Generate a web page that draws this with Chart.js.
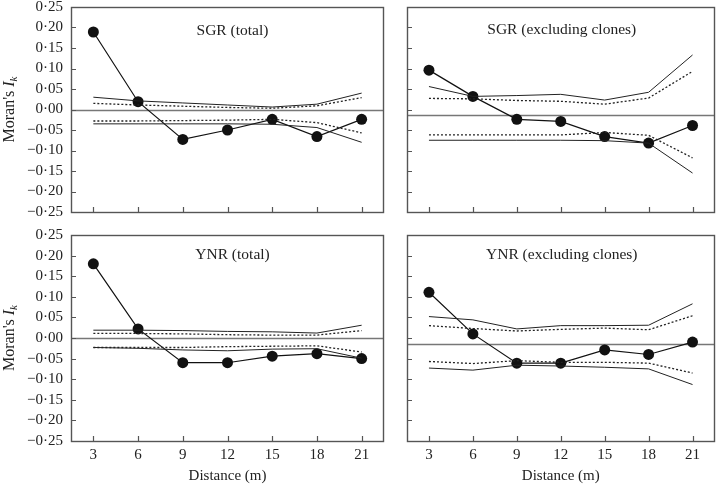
<!DOCTYPE html>
<html><head><meta charset="utf-8">
<script src="https://cdn.jsdelivr.net/npm/chart.js@4/dist/chart.umd.min.js"></script>
<style>
html,body{margin:0;padding:0;background:#fff;width:720px;height:484px;overflow:hidden}
canvas{position:absolute;left:0;top:0}
</style>
</head><body>
<canvas id="c1" width="720" height="484"></canvas>
<canvas id="c2" width="720" height="484"></canvas>
<canvas id="c3" width="720" height="484"></canvas>
<canvas id="c4" width="720" height="484"></canvas>
<script>
// ---- data ----
const distances = [3, 6, 9, 12, 15, 18, 21];
const yTickStep = 0.05;
const yMin = -0.25, yMax = 0.25;
const xAxisTitle = 'Distance (m)';

// SGR (total)
const sgrTotalTitle = 'SGR (total)';
const sgrTotalObs     = [0.189, 0.019, -0.073, -0.050, -0.024, -0.066, -0.024];
const sgrTotalUpSolid = [0.030, 0.021, 0.016, 0.011, 0.006, 0.013, 0.040];
const sgrTotalUpDot   = [0.015, 0.011, 0.008, 0.005, 0.003, 0.009, 0.029];
const sgrTotalLoDot   = [-0.028, -0.028, -0.027, -0.026, -0.024, -0.032, -0.057];
const sgrTotalLoSolid = [-0.035, -0.035, -0.035, -0.035, -0.036, -0.044, -0.080];
const sgrTotalRef = 0;

// SGR (excluding clones)
const sgrExclTitle = 'SGR (excluding clones)';
const sgrExclObs     = [0.096, 0.032, -0.024, -0.029, -0.066, -0.082, -0.039];
const sgrExclUpSolid = [0.056, 0.032, 0.034, 0.037, 0.023, 0.042, 0.133];
const sgrExclUpDot   = [0.027, 0.026, 0.022, 0.020, 0.013, 0.028, 0.093];
const sgrExclLoDot   = [-0.062, -0.062, -0.062, -0.062, -0.056, -0.063, -0.118];
const sgrExclLoSolid = [-0.075, -0.075, -0.075, -0.075, -0.076, -0.082, -0.155];
const sgrExclRef = -0.013;

// YNR (total)
const ynrTotalTitle = 'YNR (total)';
const ynrTotalObs     = [0.180, 0.022, -0.060, -0.060, -0.044, -0.038, -0.050];
const ynrTotalUpSolid = [0.019, 0.019, 0.018, 0.016, 0.015, 0.012, 0.031];
const ynrTotalUpDot   = [0.011, 0.011, 0.010, 0.008, 0.007, 0.007, 0.018];
const ynrTotalLoDot   = [-0.023, -0.023, -0.023, -0.021, -0.020, -0.019, -0.034];
const ynrTotalLoSolid = [-0.023, -0.025, -0.029, -0.031, -0.027, -0.026, -0.049];
const ynrTotalRef = 0;

// YNR (excluding clones)
const ynrExclTitle = 'YNR (excluding clones)';
const ynrExclObs     = [0.111, 0.010, -0.061, -0.061, -0.029, -0.040, -0.010];
const ynrExclUpSolid = [0.052, 0.044, 0.022, 0.030, 0.030, 0.031, 0.083];
const ynrExclUpDot   = [0.030, 0.023, 0.017, 0.021, 0.024, 0.020, 0.054];
const ynrExclLoDot   = [-0.057, -0.062, -0.055, -0.059, -0.059, -0.061, -0.085];
const ynrExclLoSolid = [-0.073, -0.078, -0.066, -0.068, -0.071, -0.075, -0.113];
const ynrExclRef = -0.015;

// ---- rendering ----
const SERIF = '"Liberation Serif", "DejaVu Serif", serif';
const pts = arr => arr.map((v, i) => ({x: distances[i], y: v}));
const fmt = v => {
  const s = Math.abs(v) < 1e-9 ? '0.00' : v.toFixed(2);
  return s.replace('-', '\u2212').replace('.', '\u00B7');
};

const panelPlugin = {
  id: 'panel',
  beforeDatasetsDraw(chart, args, o) {
    const {ctx, chartArea: a, scales: {x, y}} = chart;
    ctx.save();
    // reference line
    const yr = Math.round(y.getPixelForValue(o.ref)) + 0.5;
    ctx.strokeStyle = '#777'; ctx.lineWidth = 1.3;
    ctx.beginPath(); ctx.moveTo(a.left, yr); ctx.lineTo(a.right, yr); ctx.stroke();
    // inward ticks
    ctx.strokeStyle = '#555'; ctx.lineWidth = 1.2;
    ctx.beginPath();
    x.ticks.forEach(t => {
      const px = Math.round(x.getPixelForValue(t.value)) + 0.5;
      ctx.moveTo(px, a.bottom); ctx.lineTo(px, a.bottom - 5);
    });
    y.ticks.forEach(t => {
      const py = Math.round(y.getPixelForValue(t.value)) + 0.5;
      ctx.moveTo(a.left, py); ctx.lineTo(a.left + 5, py);
    });
    ctx.stroke();
    // frame
    ctx.strokeStyle = '#555'; ctx.lineWidth = 1.4;
    ctx.strokeRect(Math.round(a.left) + 0.5, Math.round(a.top) + 0.5,
                   Math.round(a.right - a.left) - 1, Math.round(a.bottom - a.top));
    // panel title
    ctx.fillStyle = '#222';
    ctx.font = '15.5px ' + SERIF;
    ctx.textAlign = 'center'; ctx.textBaseline = 'middle';
    ctx.fillText(o.title, (a.left + a.right) / 2 + o.titleDx, a.top + o.titleDy);
    // y-axis title
    if (o.yTitle) {
      ctx.translate(10, (a.top + a.bottom) / 2);
      ctx.rotate(-Math.PI / 2);
      ctx.textAlign = 'left'; ctx.textBaseline = 'middle';
      const f1 = '16px ' + SERIF, f2 = 'italic 16px ' + SERIF, f3 = 'italic 11px ' + SERIF;
      ctx.font = f1; const w1 = ctx.measureText("Moran's ").width;
      ctx.font = f2; const w2 = ctx.measureText('I').width;
      ctx.font = f3; const w3 = ctx.measureText('k').width;
      let sx = -(w1 + w2 + w3) / 2;
      ctx.font = f1; ctx.fillText("Moran's ", sx, 0); sx += w1;
      ctx.font = f2; ctx.fillText('I', sx, 0); sx += w2;
      ctx.font = f3; ctx.fillText('k', sx, 4);
    }
    ctx.restore();
  }
};

function makePanel(id, cfg) {
  const line = (data, dashed) => ({
    data: pts(data), borderColor: '#222', borderWidth: dashed ? 1.3 : 1,
    borderDash: dashed ? [2, 2] : [], pointRadius: 0, fill: false, tension: 0
  });
  new Chart(document.getElementById(id), {
    type: 'line',
    data: {
      datasets: [
        line(cfg.upSolid, false), line(cfg.upDot, true),
        line(cfg.loDot, true), line(cfg.loSolid, false),
        {data: pts(cfg.obs), borderColor: '#111', borderWidth: 1.2,
         pointRadius: 5.5, pointBackgroundColor: '#111', pointBorderWidth: 0,
         fill: false, tension: 0}
      ]
    },
    options: {
      responsive: false, animation: false, devicePixelRatio: 1,
      layout: {padding: {left: 0, top: cfg.top, right: 720 - cfg.right, bottom: 0}},
      plugins: {legend: {display: false}, tooltip: {enabled: false},
        panel: {ref: cfg.ref, title: cfg.title, titleDx: cfg.titleDx, titleDy: cfg.titleDy, yTitle: cfg.yTitle}},
      scales: {
        x: {
          type: 'linear', min: 1.5, max: 22.5,
          afterBuildTicks: s => { s.ticks = distances.map(v => ({value: v})); },
          afterFit: s => { s.height = 484 - cfg.bottom; s.paddingLeft = 0; s.paddingRight = 0; },
          grid: {display: false, drawTicks: false}, border: {display: false},
          ticks: {display: cfg.xLabels, padding: 5, color: '#222',
                  font: {family: SERIF, size: 15}, maxRotation: 0, autoSkip: false},
          title: {display: cfg.xLabels, text: xAxisTitle, color: '#222',
                  font: {family: SERIF, size: 15, lineHeight: 1}, padding: {top: 0, bottom: 0}}
        },
        y: {
          type: 'linear', min: yMin, max: yMax,
          ticks: {stepSize: yTickStep, display: cfg.yLabels, padding: 8, color: '#222',
                  font: {family: SERIF, size: 15}, callback: fmt, autoSkip: false},
          afterFit: s => { s.width = cfg.left; s.paddingTop = 0; s.paddingBottom = 0; },
          grid: {display: false, drawTicks: false}, border: {display: false}
        }
      }
    },
    plugins: [panelPlugin]
  });
}

makePanel('c1', {left: 71, right: 384, top: 7, bottom: 212, xLabels: false, yLabels: true, yTitle: true,
  title: sgrTotalTitle, titleDx: 5, titleDy: 24, ref: sgrTotalRef,
  obs: sgrTotalObs, upSolid: sgrTotalUpSolid, upDot: sgrTotalUpDot, loDot: sgrTotalLoDot, loSolid: sgrTotalLoSolid});
makePanel('c2', {left: 407, right: 719, top: 7, bottom: 212, xLabels: false, yLabels: false, yTitle: false,
  title: sgrExclTitle, titleDx: 1, titleDy: 23, ref: sgrExclRef,
  obs: sgrExclObs, upSolid: sgrExclUpSolid, upDot: sgrExclUpDot, loDot: sgrExclLoDot, loSolid: sgrExclLoSolid});
makePanel('c3', {left: 71, right: 384, top: 235, bottom: 441, xLabels: true, yLabels: true, yTitle: true,
  title: ynrTotalTitle, titleDx: 5, titleDy: 20, ref: ynrTotalRef,
  obs: ynrTotalObs, upSolid: ynrTotalUpSolid, upDot: ynrTotalUpDot, loDot: ynrTotalLoDot, loSolid: ynrTotalLoSolid});
makePanel('c4', {left: 407, right: 719, top: 235, bottom: 441, xLabels: true, yLabels: false, yTitle: false,
  title: ynrExclTitle, titleDx: 1, titleDy: 20, ref: ynrExclRef,
  obs: ynrExclObs, upSolid: ynrExclUpSolid, upDot: ynrExclUpDot, loDot: ynrExclLoDot, loSolid: ynrExclLoSolid});
</script>
</body></html>
